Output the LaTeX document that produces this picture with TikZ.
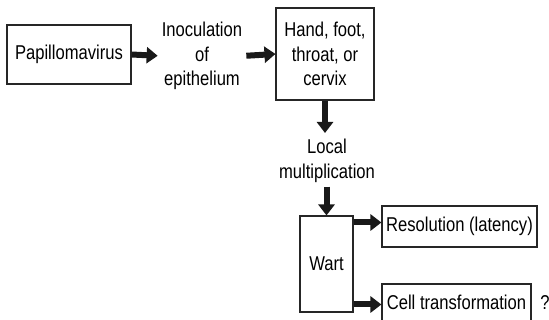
\documentclass[tikz,border=0pt]{standalone}
\usepackage{fontspec}
\setmainfont{Liberation Sans}[FakeStretch=0.83]
\usetikzlibrary{arrows.meta}
\tikzset{
  lbl/.style={font=\fontsize{20}{24.5}\selectfont, align=center, inner sep=0pt},
  box/.style={lbl, draw=black!85, line width=1.1pt},
  fatarrow/.style={line width=6pt, -{Triangle[length=11pt,width=16pt]}, black!90}
}
\begin{document}
\begin{tikzpicture}[x=1pt,y=-1pt]
\useasboundingbox (0,0) rectangle (549,320);
\node[box, minimum width=124pt, minimum height=59pt] (pap) at (69,54.5) {Papillomavirus};
\node[lbl] (inoc) at (202,56) {Inoculation\\of\\epithelium};
\node[box, minimum width=98pt, minimum height=92pt] (hand) at (325,54) {Hand, foot,\\throat, or\\cervix};
\node[lbl, anchor=north] (local) at (327,139) {Local\\multiplication};
\node[box, minimum width=53pt, minimum height=96pt] (wart) at (326.5,264) {Wart};
\node[box, minimum width=155pt, minimum height=41pt] (res) at (459.5,226.5) {Resolution (latency)};
\node[box, minimum width=149pt, minimum height=41pt] (cell) at (456.5,304.5) {\raisebox{4pt}{Cell transformation}};
\node[lbl] (q) at (545,303) {?};
\draw[fatarrow, shorten >=4pt] (pap.east) -- (inoc.west);
\draw[fatarrow, shorten <=4pt] (inoc.east) -- (hand.west);
\draw[fatarrow, shorten >=6pt] (hand.south) -- (hand.south |- local.north);
\draw[fatarrow, shorten <=4pt] (local.south -| wart.north) -- (wart.north);
\draw[fatarrow] ([yshift=4pt]wart.east |- res.west) -- ([yshift=4pt]res.west);
\draw[fatarrow] (wart.east |- cell.west) -- (cell.west);
\end{tikzpicture}
\end{document}
